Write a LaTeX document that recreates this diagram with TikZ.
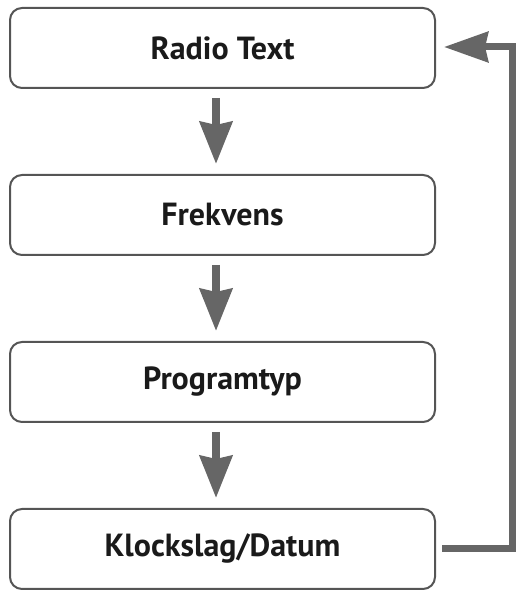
\documentclass[tikz,border=0pt]{standalone}
\usepackage{fontspec}
\setmainfont{PT Sans}
\usetikzlibrary{arrows.meta}
\definecolor{boxline}{HTML}{555555}
\definecolor{arrowgray}{HTML}{666666}
\definecolor{txt}{HTML}{1A1A1A}
\begin{document}
\begin{tikzpicture}[x=1pt,y=1pt,
  stepbox/.style={draw=boxline, line width=2pt, rounded corners=12pt,
    minimum width=425pt, minimum height=80pt, inner sep=0pt,
    font=\bfseries\fontsize{32}{38}\selectfont, text=txt},
  flow/.style={draw=arrowgray, line width=8pt,
    -{Stealth[length=42pt,width=32pt,inset=3pt]}},
  back/.style={draw=arrowgray, line width=7pt,
    -{Stealth[length=44pt,width=30pt,inset=3pt]}}]
\useasboundingbox (0,0) rectangle (523,592);
\node[stepbox] (a) at (222.5,544) {Radio Text};
\node[stepbox] (b) at (222.5,377) {Frekvens};
\node[stepbox] (c) at (222.5,210) {Programtyp};
\node[stepbox] (d) at (222.5,43) {Klockslag/Datum};
\draw[flow] ([xshift=-6.5pt,yshift=-9pt]a.south) -- ([xshift=-6.5pt,yshift=10pt]b.north);
\draw[flow] ([xshift=-6.5pt,yshift=-9pt]b.south) -- ([xshift=-6.5pt,yshift=10pt]c.north);
\draw[flow] ([xshift=-6.5pt,yshift=-9pt]c.south) -- ([xshift=-6.5pt,yshift=10pt]d.north);
\coordinate (r1) at (512,43);
\coordinate (r2) at (512,545);
\draw[back] ([xshift=6pt]d.east) -- (r1) -- (r2) -- ([xshift=8pt]a.east |- r2);
\end{tikzpicture}
\end{document}
